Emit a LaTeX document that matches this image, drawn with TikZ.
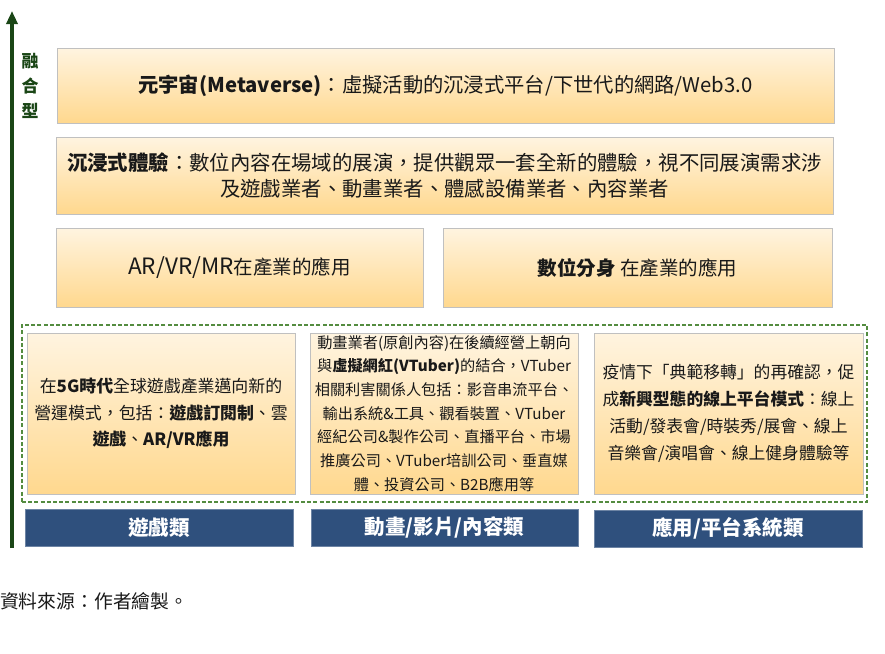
\documentclass[tikz,border=0pt]{standalone}
\usepackage{fontspec}
\setmainfont{Noto Sans CJK TC}
\usetikzlibrary{arrows.meta,shadows}
\definecolor{txt}{RGB}{25,25,25}
\definecolor{otop}{RGB}{255,244,224}
\definecolor{obot}{RGB}{255,216,142}
\definecolor{oborder}{RGB}{192,192,192}
\definecolor{navy}{RGB}{47,80,125}
\definecolor{dgreen}{RGB}{26,70,22}
\definecolor{dashgreen}{RGB}{84,140,64}
\tikzset{
  obox/.style={draw=oborder, line width=0.8pt, top color=otop, bottom color=obot,
    drop shadow={shadow xshift=0.8pt, shadow yshift=-1.4pt, opacity=0.35, fill=black!60},
    text=txt, align=center, inner sep=0pt},
  lbl/.style={fill=navy, draw=navy!70, text=white, align=center, inner sep=0pt,
    minimum height=37pt, font=\fontsize{20.5}{24}\selectfont\bfseries},
  grpbox/.style={draw=dashgreen, line width=1.1pt, dash pattern=on 4pt off 2.2pt, inner sep=0pt},
}
\begin{document}
\begin{tikzpicture}[x=1pt,y=-1pt]
\useasboundingbox (0,0) rectangle (885,653);
% axis arrow
\coordinate (abot) at (12,548);
\coordinate (atop) at (12,11);
\draw[dgreen, line width=3.2pt, -{Triangle[width=11pt,length=13pt]}] (abot) -- (atop);
\node[text=dgreen, align=center, font=\fontsize{17}{25}\selectfont\bfseries, inner sep=0pt] (fuse) at (30,86) {融\\合\\型};
% top layers
\node[obox, minimum width=777pt, minimum height=75pt, font=\fontsize{20.3}{24}\selectfont] (meta) at (445.5,85.5)
  {\textbf{元宇宙(Metaverse)}：虛擬活動的沉浸式平台/下世代的網路/Web3.0};
\node[obox, minimum width=777pt, minimum height=77pt, font=\fontsize{20.4}{26}\selectfont] (imm) at (444.5,175.5)
  {\textbf{沉浸式體驗}：數位內容在場域的展演，提供觀眾一套全新的體驗，視不同展演需求涉\\及遊戲業者、動畫業者、體感設備業者、內容業者};
\node[obox, minimum width=367pt, minimum height=79pt, font=\fontsize{19.5}{24}\selectfont] (arvr) at (239.5,267.5)
  {{\fontsize{22.5}{24}\selectfont AR/VR/MR}在產業的應用};
\node[obox, minimum width=389pt, minimum height=79pt, font=\fontsize{19.5}{24}\selectfont] (twin) at (637.5,267.5)
  {\textbf{數位分身} 在產業的應用};
% group
\node[grpbox, minimum width=845pt, minimum height=177pt] (grp) at (444.5,413.5) {};
\node[obox, minimum width=268pt, minimum height=161pt, font=\fontsize{16.9}{26.5}\selectfont] (game) at (161,413.5)
  {在\textbf{5G時代}全球遊戲產業邁向新的\\營運模式，包括：\textbf{遊戲訂閱制}、雲\\\textbf{遊戲}、\textbf{AR/VR應用}};
\node[obox, minimum width=268pt, minimum height=161pt, font=\fontsize{15.2}{23.7}\selectfont] (anim) at (444,413.5)
  {動畫業者(原創內容)在後續經營上朝向\\與\textbf{虛擬網紅(VTuber)}的結合，VTuber\\相關利害關係人包括：影音串流平台、\\輸出系統\&工具、觀看裝置、VTuber\\經紀公司\&製作公司、直播平台、市場\\推廣公司、VTuber培訓公司、垂直媒\\體、投資公司、B2B應用等};
\node[obox, minimum width=269pt, minimum height=161pt, font=\fontsize{16.8}{27}\selectfont] (app) at (728.5,413.5)
  {疫情下「典範移轉」的再確認，促\\成\textbf{新興型態的線上平台模式}：線上\\活動/發表會/時裝秀/展會、線上\\音樂會/演唱會、線上健身體驗等};
% category labels
\node[lbl, minimum width=268pt] (gameL) at (159,527.5) {遊戲類};
\node[lbl, minimum width=267pt] (animL) at (444.5,527.5) {動畫/影片/內容類};
\node[lbl, minimum width=268pt] (appL) at (728,528.5) {應用/平台系統類};
% source
\node[anchor=west, inner sep=0pt, text=txt, font=\fontsize{18.8}{22}\selectfont] (src) at (0,601) {資料來源：作者繪製。};
\end{tikzpicture}
\end{document}
